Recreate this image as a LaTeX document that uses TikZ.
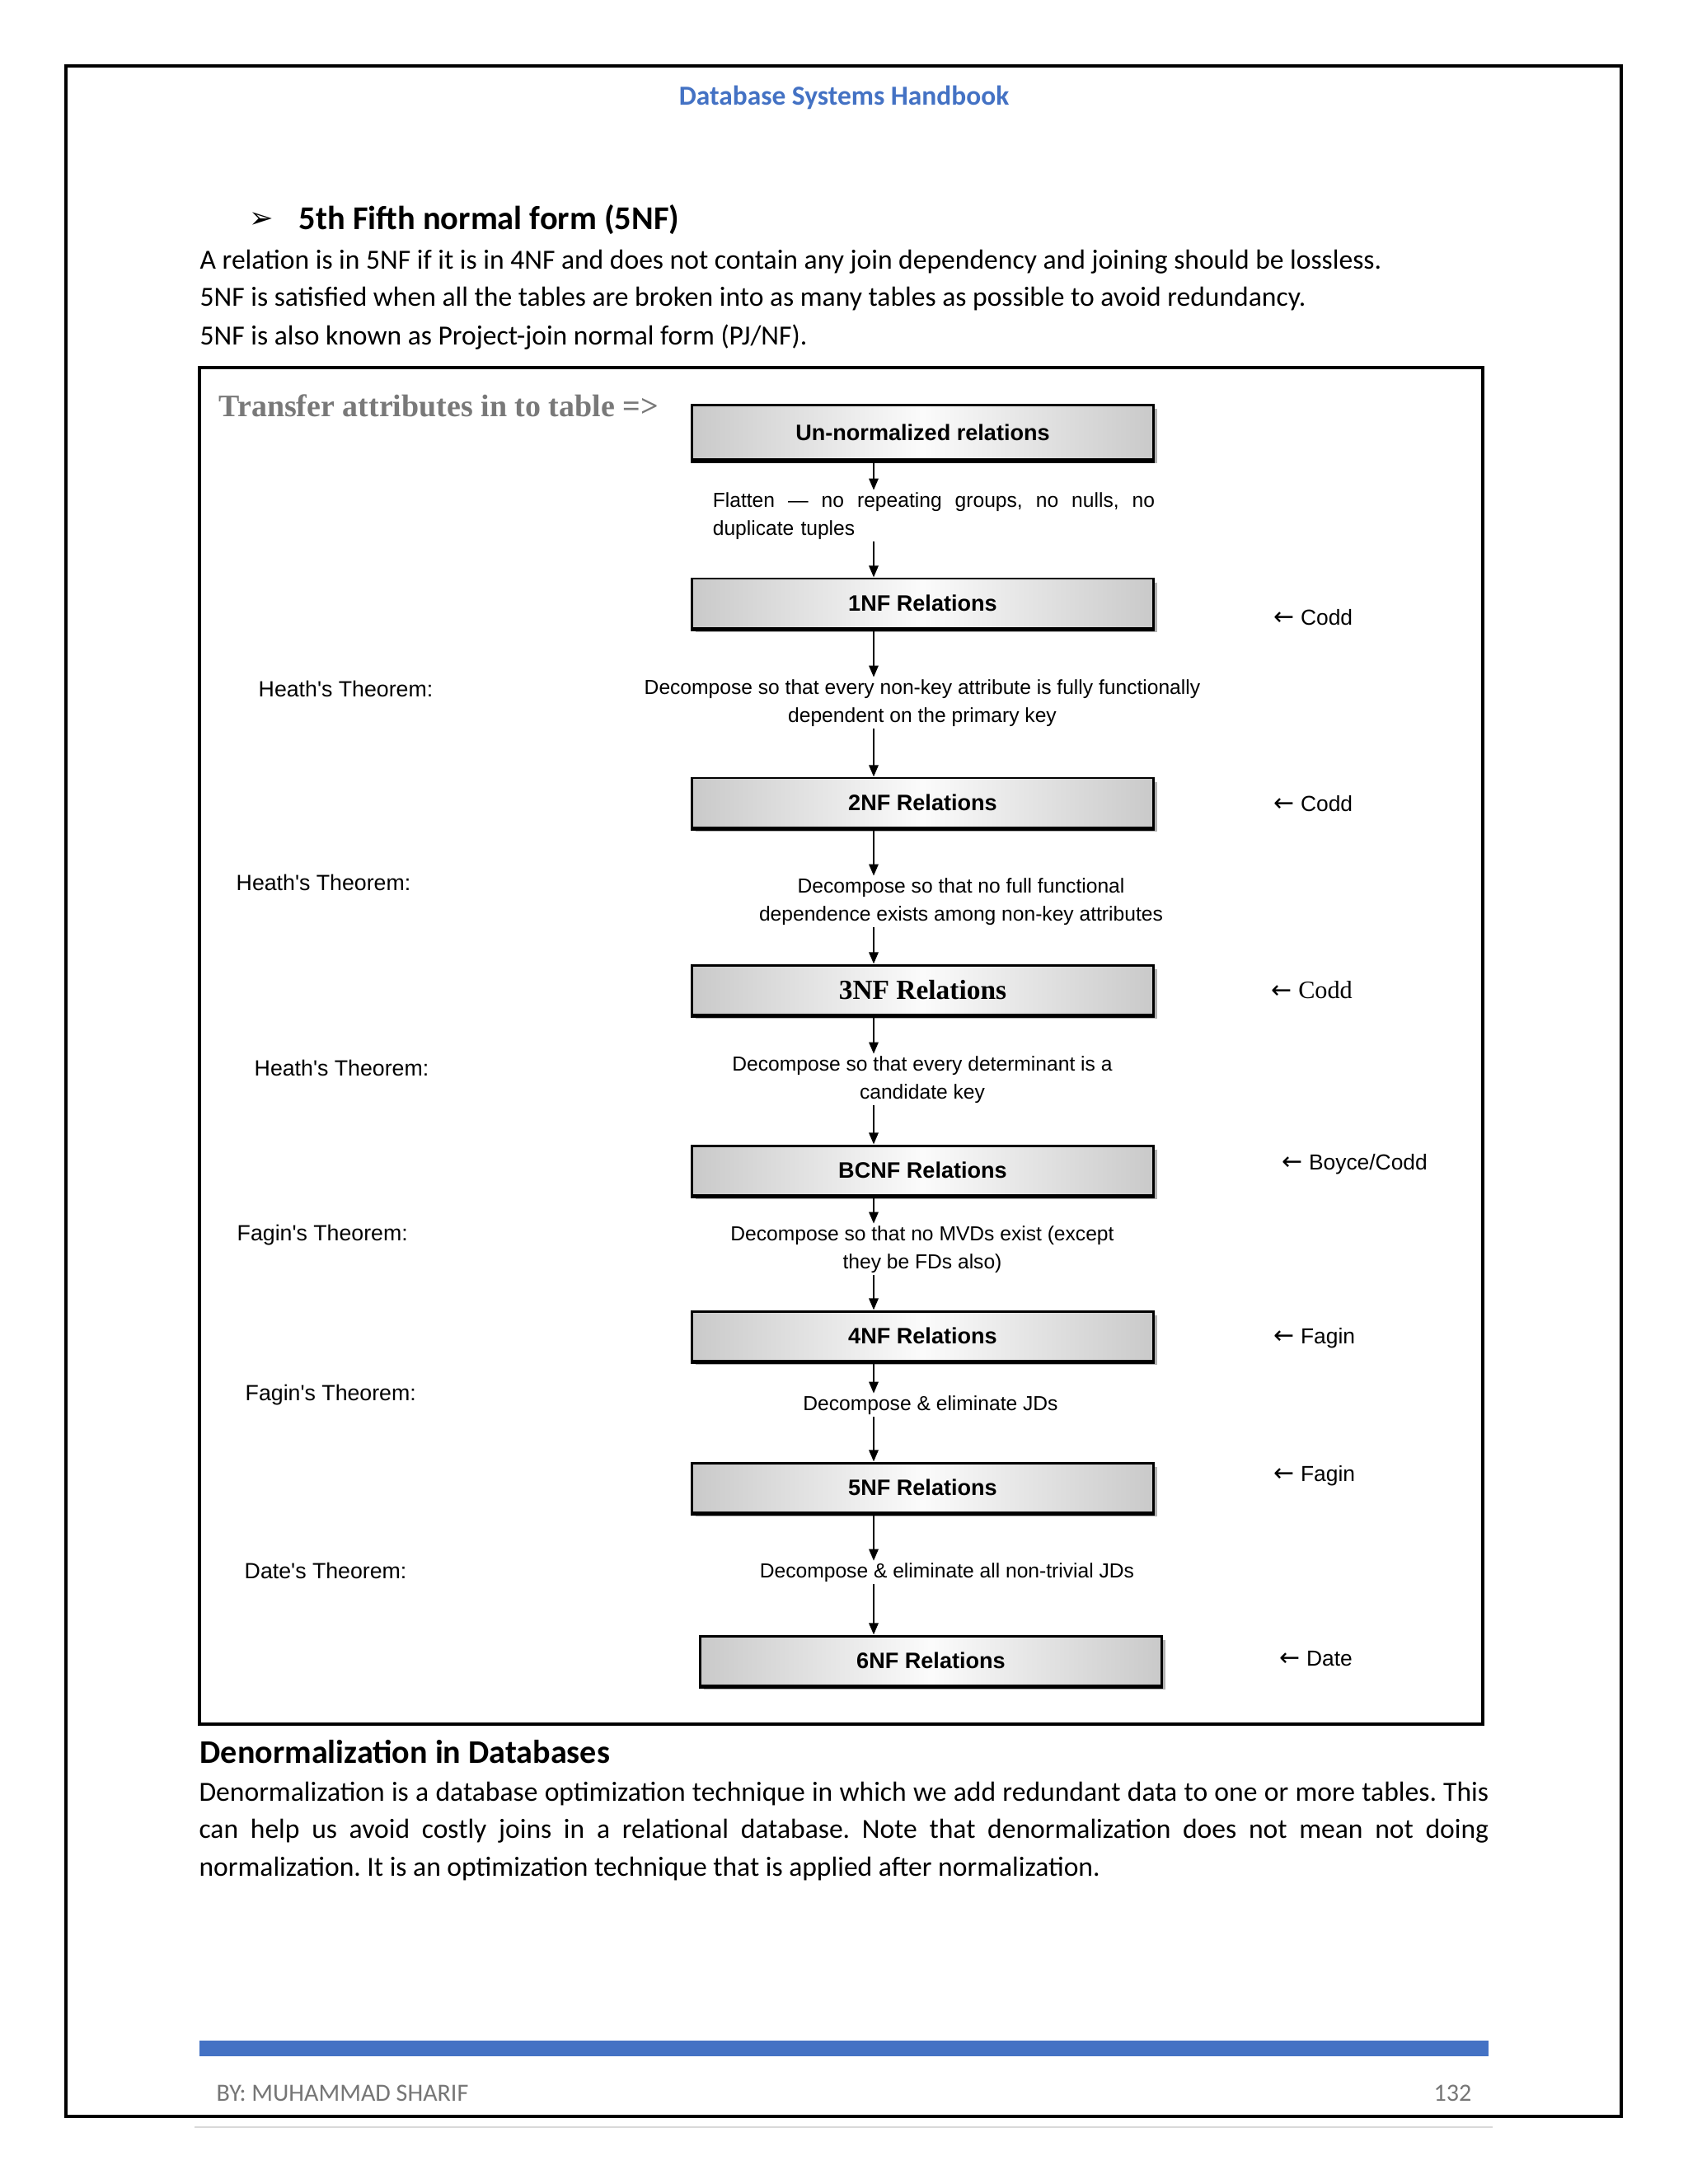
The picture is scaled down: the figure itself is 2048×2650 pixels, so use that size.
\documentclass[tikz,border=0pt]{standalone}
\usepackage{fontspec}
\setmainfont{Carlito}
\newfontfamily\arialfont{Liberation Sans}
\newfontfamily\timesfont{Liberation Serif}
\newfontfamily\symfont{DejaVu Sans}
\usetikzlibrary{arrows.meta,shadows,positioning}
\definecolor{hdblue}{RGB}{68,114,196}
\definecolor{footgray}{RGB}{118,118,118}
\newcommand{\larr}{{\symfont\fontsize{8.5}{9}\selectfont ←}}
\frenchspacing

\tikzset{
  nfbox/.style={draw, line width=0.85pt, minimum width=5.59cm, minimum height=0.6cm,
    left color=gray!42, right color=gray!42, middle color=gray!3,
    drop shadow={shadow xshift=1.3pt, shadow yshift=-1.3pt, fill=gray!60, opacity=1},
    font=\arialfont\bfseries\fontsize{7.7}{9}\selectfont},
  desc/.style={inner sep=0.6pt, align=center, font=\arialfont\fontsize{7}{9.7}\selectfont},
  flow/.style={line width=0.65pt, -{Triangle[length=4pt,width=3.2pt]}},
  thm/.style={anchor=west, inner sep=0pt, font=\arialfont\fontsize{7.6}{9}\selectfont},
  who/.style={anchor=west, inner sep=0pt, font=\arialfont\fontsize{7.5}{9}\selectfont},
  body/.style={anchor=west, inner sep=0pt, font=\fontsize{9.55}{12.9}\selectfont},
}

\begin{document}
\begin{tikzpicture}[x=0.01cm, y=-0.01cm]
\useasboundingbox (0,0) rectangle (2048,2650);
\fill[white] (0,0) rectangle (2048,2650);

% page frame, header
\draw[line width=1.1pt] (80,80) rectangle (1967,2568);
\draw[gray!30, line width=0.8pt] (236,2581) -- (1811,2581);
\node[text=hdblue, font=\bfseries\fontsize{9.5}{12}\selectfont] (hdr) at (1024,118) {Database Systems Handbook};

% section text
\node[font=\symfont\fontsize{10}{11}\selectfont, inner sep=0pt] (bul) at (317,267) {➢};
\node[anchor=west, inner sep=0pt, font=\bfseries\fontsize{11.5}{14}\selectfont] (sec) at (362,267) {5th Fifth normal form (5NF)};
\node[body] (l1) at (242,318) {A relation is in 5NF if it is in 4NF and does not contain any join dependency and joining should be lossless.};
\node[body] (l2) at (242,363) {5NF is satisfied when all the tables are broken into as many tables as possible to avoid redundancy.};
\node[body] (l3) at (242,409) {5NF is also known as Project-join normal form (PJ/NF).};

% diagram frame
\draw[line width=1pt] (242,446) rectangle (1799,2092);
\node[anchor=west, inner sep=0pt, text=gray!95!black, font=\timesfont\bfseries\fontsize{10.8}{12}\selectfont] (tr) at (265,492) {Transfer attributes in to table =>};

% normal form boxes
\node[nfbox, minimum height=0.66cm] (unf) at (1119.5,524.5) {Un-normalized relations};
\node[nfbox] (nf1) at (1119.5,732) {1NF Relations};
\node[nfbox] (nf2) at (1119.5,974) {2NF Relations};
\node[nfbox, font=\timesfont\bfseries\fontsize{9.5}{11}\selectfont] (nf3) at (1119.5,1201) {3NF Relations};
\node[nfbox] (bcnf) at (1119.5,1420) {BCNF Relations};
\node[nfbox] (nf4) at (1119.5,1621) {4NF Relations};
\node[nfbox] (nf5) at (1119.5,1805) {5NF Relations};
\node[nfbox] (nf6) at (1129.5,2015) {6NF Relations};
\foreach \b in {unf,nf1,nf2,nf3,bcnf,nf4,nf5,nf6}
  \draw[line width=1.5pt] (\b.south west) -- (\b.south east);

% steps between boxes
\node[desc, anchor=west, text width=5.37cm, align=left] (d1) at (862,626)
  {\makebox[5.36cm][s]{\spaceskip=0pt Flatten — no repeating groups, no nulls, no}\\duplicate tuples};
\node[desc] (d2) at (1119,853) {Decompose so that every non-key attribute is fully functionally\\dependent on the primary key};
\node[desc] (d3) at (1166,1094) {Decompose so that no full functional\\dependence exists among non-key attributes};
\node[desc] (d4) at (1119,1310) {Decompose so that every determinant is a\\candidate key};
\node[desc] (d5) at (1119,1516) {Decompose so that no MVDs exist (except\\they be FDs also)};
\node[desc] (d6) at (1129,1705) {Decompose \& eliminate JDs};
\node[desc] (d7) at (1149,1908) {Decompose \& eliminate all non-trivial JDs};

\coordinate (ax) at (1060,0);
\foreach \a/\b in {unf/d1, d1/nf1, nf1/d2, d2/nf2, nf2/d3, d3/nf3, nf3/d4, d4/bcnf,
                   bcnf/d5, d5/nf4, nf4/d6, d6/nf5, nf5/d7, d7/nf6}
  \draw[flow] (\a.south -| ax) -- (\b.north -| ax);

% theorems
\node[thm] (t1) at (313,836) {Heath's Theorem:};
\node[thm] (t2) at (286,1071) {Heath's Theorem:};
\node[thm] (t3) at (308,1296) {Heath's Theorem:};
\node[thm] (t4) at (287,1499) {Fagin's Theorem:};
\node[thm] (t5) at (297,1693) {Fagin's Theorem:};
\node[thm] (t6) at (296,1906) {Date's Theorem:};

% who defined it
\node[who] (w1) at (1545,749) {\larr\ Codd};
\node[who] (w2) at (1545,975) {\larr\ Codd};
\node[who, font=\timesfont\fontsize{8.6}{10}\selectfont] (w3) at (1542,1201) {\larr\ Codd};
\node[who] (w4) at (1555,1413) {\larr\ Boyce/Codd};
\node[who] (w5) at (1545,1624) {\larr\ Fagin};
\node[who] (w6) at (1545,1791) {\larr\ Fagin};
\node[who] (w7) at (1552,2013) {\larr\ Date};

% denormalization text
\node[anchor=west, inner sep=0pt, font=\bfseries\fontsize{11.4}{14}\selectfont] (den) at (242,2126) {Denormalization in Databases};
\node[inner sep=0pt, text width=15.64cm, align=justify, font=\fontsize{9.55}{12.95}\selectfont] (dpar) at (1024,2222)
  {Denormalization is a database optimization technique in which we add redundant data to one or more tables. This\linebreak
   can help us avoid costly joins in a relational database. Note that denormalization does not mean not doing\linebreak
   normalization. It is an optimization technique that is applied after normalization.};

% footer
\fill[hdblue] (242,2476) rectangle (1806,2495);
\node[anchor=west, inner sep=0pt, text=footgray, font=\fontsize{8.55}{10}\selectfont] (by) at (262,2540) {BY: MUHAMMAD SHARIF};
\node[anchor=east, inner sep=0pt, text=footgray, font=\fontsize{8.55}{10}\selectfont] (pg) at (1786,2540) {132};
\end{tikzpicture}
\end{document}
